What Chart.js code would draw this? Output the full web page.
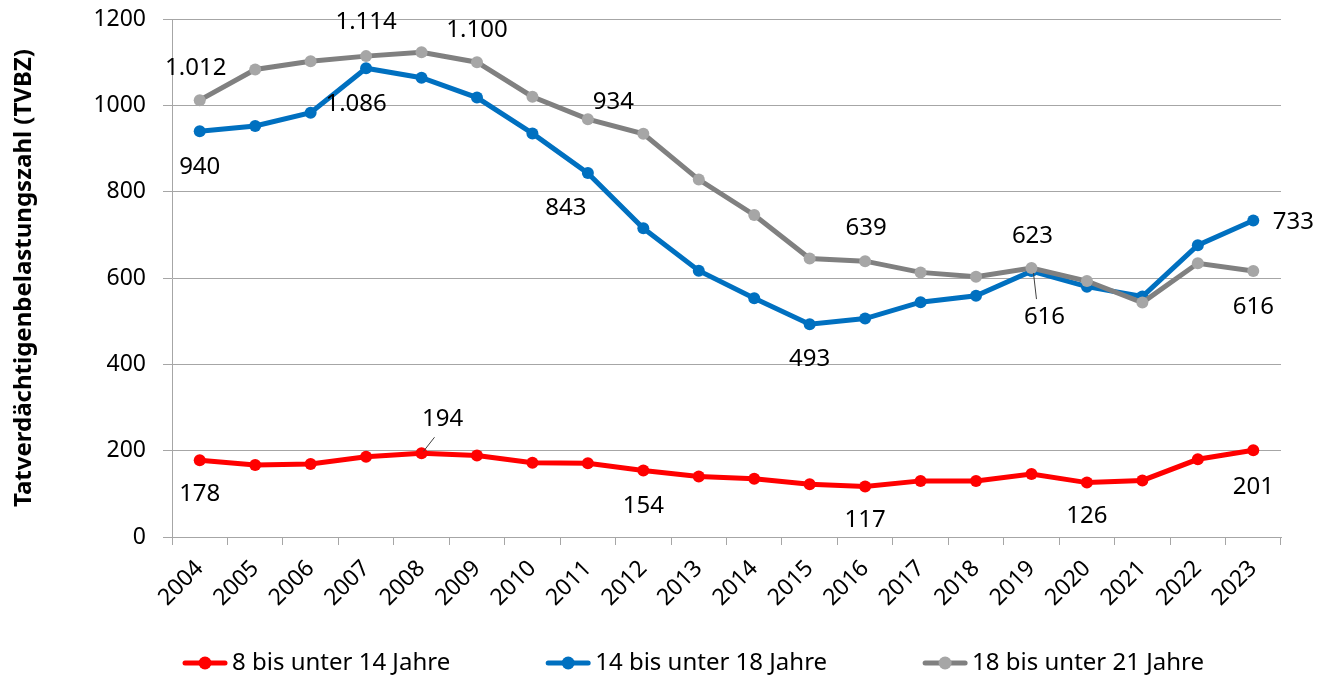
<!DOCTYPE html>
<html>
<head>
<meta charset="utf-8">
<script src="https://cdn.jsdelivr.net/npm/chart.js@4"></script>
<style>
  html, body { margin: 0; padding: 0; background: #fff; }
  #wrap { width: 1319px; height: 678px; }
</style>
</head>
<body>
<div id="wrap"><canvas id="myChart" width="1319" height="678"></canvas></div>
<script>
const years = ["2004", "2005", "2006", "2007", "2008", "2009", "2010", "2011", "2012", "2013",
  "2014", "2015", "2016", "2017", "2018", "2019", "2020", "2021", "2022", "2023"];
const age8to14 = [178, 167, 169, 186, 194, 189, 172, 171, 154, 140, 135, 122, 117, 130, 130, 146, 126, 131, 180, 201];
const age14to18 = [940, 952, 983, 1086, 1064, 1018, 935, 843, 715, 617, 553, 493, 506, 544, 559, 616, 580, 557, 676, 733];
const age18to21 = [1012, 1083, 1102, 1114, 1123, 1100, 1020, 968, 934, 828, 746, 645, 639, 613, 603, 623, 593, 543, 634, 616];
const yTicks = [0, 200, 400, 600, 800, 1000, 1200];
const seriesNames = ["8 bis unter 14 Jahre", "14 bis unter 18 Jahre", "18 bis unter 21 Jahre"];

// which points get a value label (dataset index, year index)
const labelled = [
  [0, 0], [0, 4], [0, 8], [0, 12], [0, 16], [0, 19],
  [1, 0], [1, 3], [1, 7], [1, 11], [1, 15], [1, 19],
  [2, 0], [2, 3], [2, 5], [2, 8], [2, 12], [2, 15], [2, 19]
];
// label offsets from the point (style only)
const labelPlacement = {
  "0-0": [0, 34], "0-4": [21, -34, true], "0-8": [0, 36], "0-12": [0, 34], "0-16": [0, 34], "0-19": [0, 37],
  "1-0": [0, 36], "1-3": [-10, 36], "1-7": [-22, 35], "1-11": [0, 35], "1-15": [13, 46, true], "1-19": [40, 2],
  "2-0": [-4, -32], "2-3": [0, -34], "2-5": [0, -32], "2-8": [-30, -32], "2-12": [1, -33], "2-15": [1, -32], "2-19": [0, 36]
};

const colors = {
  red: "#ff0000",
  blue: "#0070c0",
  grayLine: "#808080",
  grayPoint: "#a6a6a6",
  grid: "#a6a6a6"
};

function fmt(v) {
  const s = String(Math.round(v));
  return s.replace(/\B(?=(\d{3})+(?!\d))/g, ".");
}

const valueLabels = {
  id: "valueLabels",
  afterDatasetsDraw(chart) {
    const ctx = chart.ctx;
    ctx.save();
    ctx.font = "24px 'Noto Sans'";
    ctx.fillStyle = "#000";
    ctx.textAlign = "center";
    ctx.textBaseline = "middle";
    labelled.forEach(([ds, i]) => {
      const pt = chart.getDatasetMeta(ds).data[i];
      const p = labelPlacement[ds + "-" + i];
      const v = chart.data.datasets[ds].data[i];
      const lx = pt.x + p[0], ly = pt.y + p[1];
      if (p[2]) {
        ctx.strokeStyle = "#404040";
        ctx.lineWidth = 1;
        ctx.beginPath();
        const sx = Math.sign(p[0]), sy = Math.sign(p[1]);
        ctx.moveTo(pt.x + sx * 2, pt.y + sy * 2);
        ctx.lineTo(lx - sx * 8, ly - sy * 18);
        ctx.stroke();
      }
      ctx.fillText(fmt(v), lx, ly);
    });
    ctx.restore();
  }
};

// legend below the axis labels: line + dot marker, then the series name
const bottomLegend = {
  id: "bottomLegend",
  afterDraw(chart) {
    const ctx = chart.ctx;
    const y = 663;
    let x = chart.chartArea.left + 11;
    ctx.save();
    ctx.font = "24px 'Noto Sans'";
    ctx.textBaseline = "middle";
    ctx.textAlign = "left";
    chart.data.datasets.forEach((d) => {
      ctx.strokeStyle = d.borderColor;
      ctx.lineWidth = 5;
      ctx.lineCap = "round";
      ctx.beginPath(); ctx.moveTo(x + 2, y); ctx.lineTo(x + 42, y); ctx.stroke();
      ctx.fillStyle = d.pointBackgroundColor;
      ctx.beginPath(); ctx.arc(x + 22, y, 6.5, 0, Math.PI * 2); ctx.fill();
      ctx.fillStyle = "#000";
      ctx.fillText(d.label, x + 49, y);
      x += 49 + ctx.measureText(d.label).width + 96;
    });
    ctx.restore();
  }
};

const ctx = document.getElementById("myChart").getContext("2d");
const chart = new Chart(ctx, {
  type: "line",
  data: {
    labels: years,
    datasets: [
      {
        label: seriesNames[0], data: age8to14, order: 3,
        borderColor: colors.red, backgroundColor: colors.red,
        pointBackgroundColor: colors.red, pointBorderColor: colors.red,
        borderWidth: 5, pointRadius: 6, pointBorderWidth: 0, tension: 0
      },
      {
        label: seriesNames[1], data: age14to18, order: 2,
        borderColor: colors.blue, backgroundColor: colors.blue,
        pointBackgroundColor: colors.blue, pointBorderColor: colors.blue,
        borderWidth: 5, pointRadius: 6, pointBorderWidth: 0, tension: 0
      },
      {
        label: seriesNames[2], data: age18to21, order: 1,
        borderColor: colors.grayLine, backgroundColor: colors.grayPoint,
        pointBackgroundColor: colors.grayPoint, pointBorderColor: colors.grayPoint,
        borderWidth: 5, pointRadius: 6, pointBorderWidth: 0, tension: 0
      }
    ]
  },
  options: {
    responsive: false,
    animation: false,
    layout: { padding: { top: 0, right: 38, bottom: 51, left: 0 } },
    plugins: {
      tooltip: { enabled: false },
      legend: { display: false }
    },
    scales: {
      x: {
        offset: true,
        grid: {
          offset: true,
          drawOnChartArea: false,
          drawTicks: true,
          tickLength: 8,
          color: colors.grid
        },
        border: { color: colors.grid, width: 1 },
        ticks: {
          color: "#000",
          font: { family: "'Noto Sans'", size: 23 },
          maxRotation: 45,
          minRotation: 45,
          autoSkip: false,
          padding: 10
        },
        afterFit(scale) { scale.height = 90; }
      },
      y: {
        min: 0,
        max: 1200,
        afterBuildTicks(scale) { scale.ticks = yTicks.map(v => ({ value: v })); },
        grid: { color: colors.grid, tickLength: 9, lineWidth: 1 },
        border: { color: colors.grid, width: 1 },
        ticks: {
          color: "#000",
          font: { family: "'Noto Sans'", size: 23 },
          padding: 17,
          callback: v => String(v)
        },
        title: {
          display: true,
          text: "Tatverdächtigenbelastungszahl (TVBZ)",
          color: "#000",
          font: { family: "'Noto Sans'", size: 24, weight: "bold" },
          padding: { top: 10, bottom: 4 }
        },
        afterFit(scale) {
          scale.width = 172;
          scale.paddingTop = 19;
          scale.paddingBottom = 0;
        }
      }
    }
  },
  plugins: [valueLabels, bottomLegend]
});
</script>
</body>
</html>
